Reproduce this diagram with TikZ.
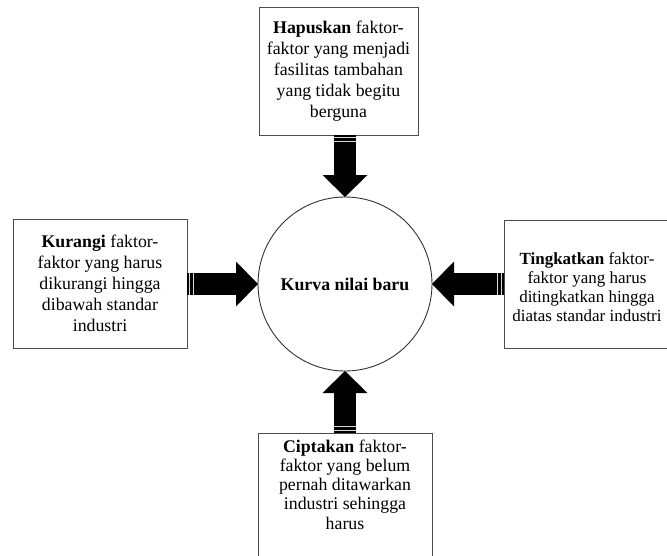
\documentclass[tikz,border=0pt]{standalone}
\usepackage{fontspec}
\setmainfont{Liberation Serif}
\usetikzlibrary{calc}
\tikzset{
  txtbox/.style={draw=black!70, line width=1pt, fill=white, inner sep=0pt, outer sep=0pt,
    align=center, font=\fontsize{17.8}{21}\selectfont},
  hub/.style={circle, draw=black!80, line width=0.9pt, fill=white, inner sep=0pt, outer sep=0pt,
    minimum size=174pt, font=\bfseries\fontsize{17.8}{21}\selectfont},
  shaft/.style={line width=22.5pt, black},
  stripe/.style={black!15, line width=0.6pt}
}
\newcommand{\blockarrow}[2]{%
  \draw[shaft] (#1) -- ($(#2)!21pt!(#1)$);
  \fill[black] ($(#2)!22pt!(#1)!22.5pt!90:(#2)$) -- (#2) -- ($(#2)!22pt!(#1)!22.5pt!-90:(#2)$) -- cycle;
  \draw[stripe] ($(#1)!2.5pt!(#2)!11.25pt!90:(#2)$) -- ($(#1)!2.5pt!(#2)!11.25pt!-90:(#2)$);
  \draw[stripe] ($(#1)!6.5pt!(#2)!11.25pt!90:(#2)$) -- ($(#1)!6.5pt!(#2)!11.25pt!-90:(#2)$);
}
\begin{document}
\begin{tikzpicture}[x=1pt,y=-1pt]
\useasboundingbox (0,0) rectangle (667,555);
\clip (0,0) rectangle (667,555);
\fill[white] (0,0) rectangle (667,555);

\node[hub] (c) at (345,284) {Kurva nilai baru};

\node[txtbox, minimum width=159pt, minimum height=128pt] (top) at (338.5,71)
  {\textbf{Hapuskan} faktor-\\faktor yang menjadi\\fasilitas tambahan\\yang tidak begitu\\berguna};
\node[txtbox, minimum width=174pt, minimum height=129pt] (left) at (100,283.5)
  {\textbf{Kurangi} faktor-\\faktor yang harus\\dikurangi hingga\\dibawah standar\\industri};
\node[txtbox, minimum width=174pt, minimum height=128pt] (right) at (591,284) {};
\node[align=center, inner sep=0pt, font=\fontsize{17}{19}\selectfont] (rtext) at (587,287)
  {\textbf{Tingkatkan} faktor-\\faktor yang harus\\ditingkatkan hingga\\diatas standar industri};
\node[txtbox, minimum width=174pt, minimum height=136pt, anchor=north,
      font=\fontsize{17.8}{19.3}\selectfont] (bottom) at (345,433)
  {\textbf{Ciptakan} faktor-\\faktor yang belum\\pernah ditawarkan\\industri sehingga\\harus\\[14pt]};

\coordinate (tA) at (top.south -| c.north);
\coordinate (lA) at (left.east |- c.west);
\coordinate (rA) at (right.west |- c.east);
\coordinate (bA) at (bottom.north -| c.south);

\blockarrow{tA}{c.north}
\blockarrow{lA}{c.west}
\blockarrow{rA}{c.east}
\blockarrow{bA}{c.south}
\end{tikzpicture}
\end{document}
